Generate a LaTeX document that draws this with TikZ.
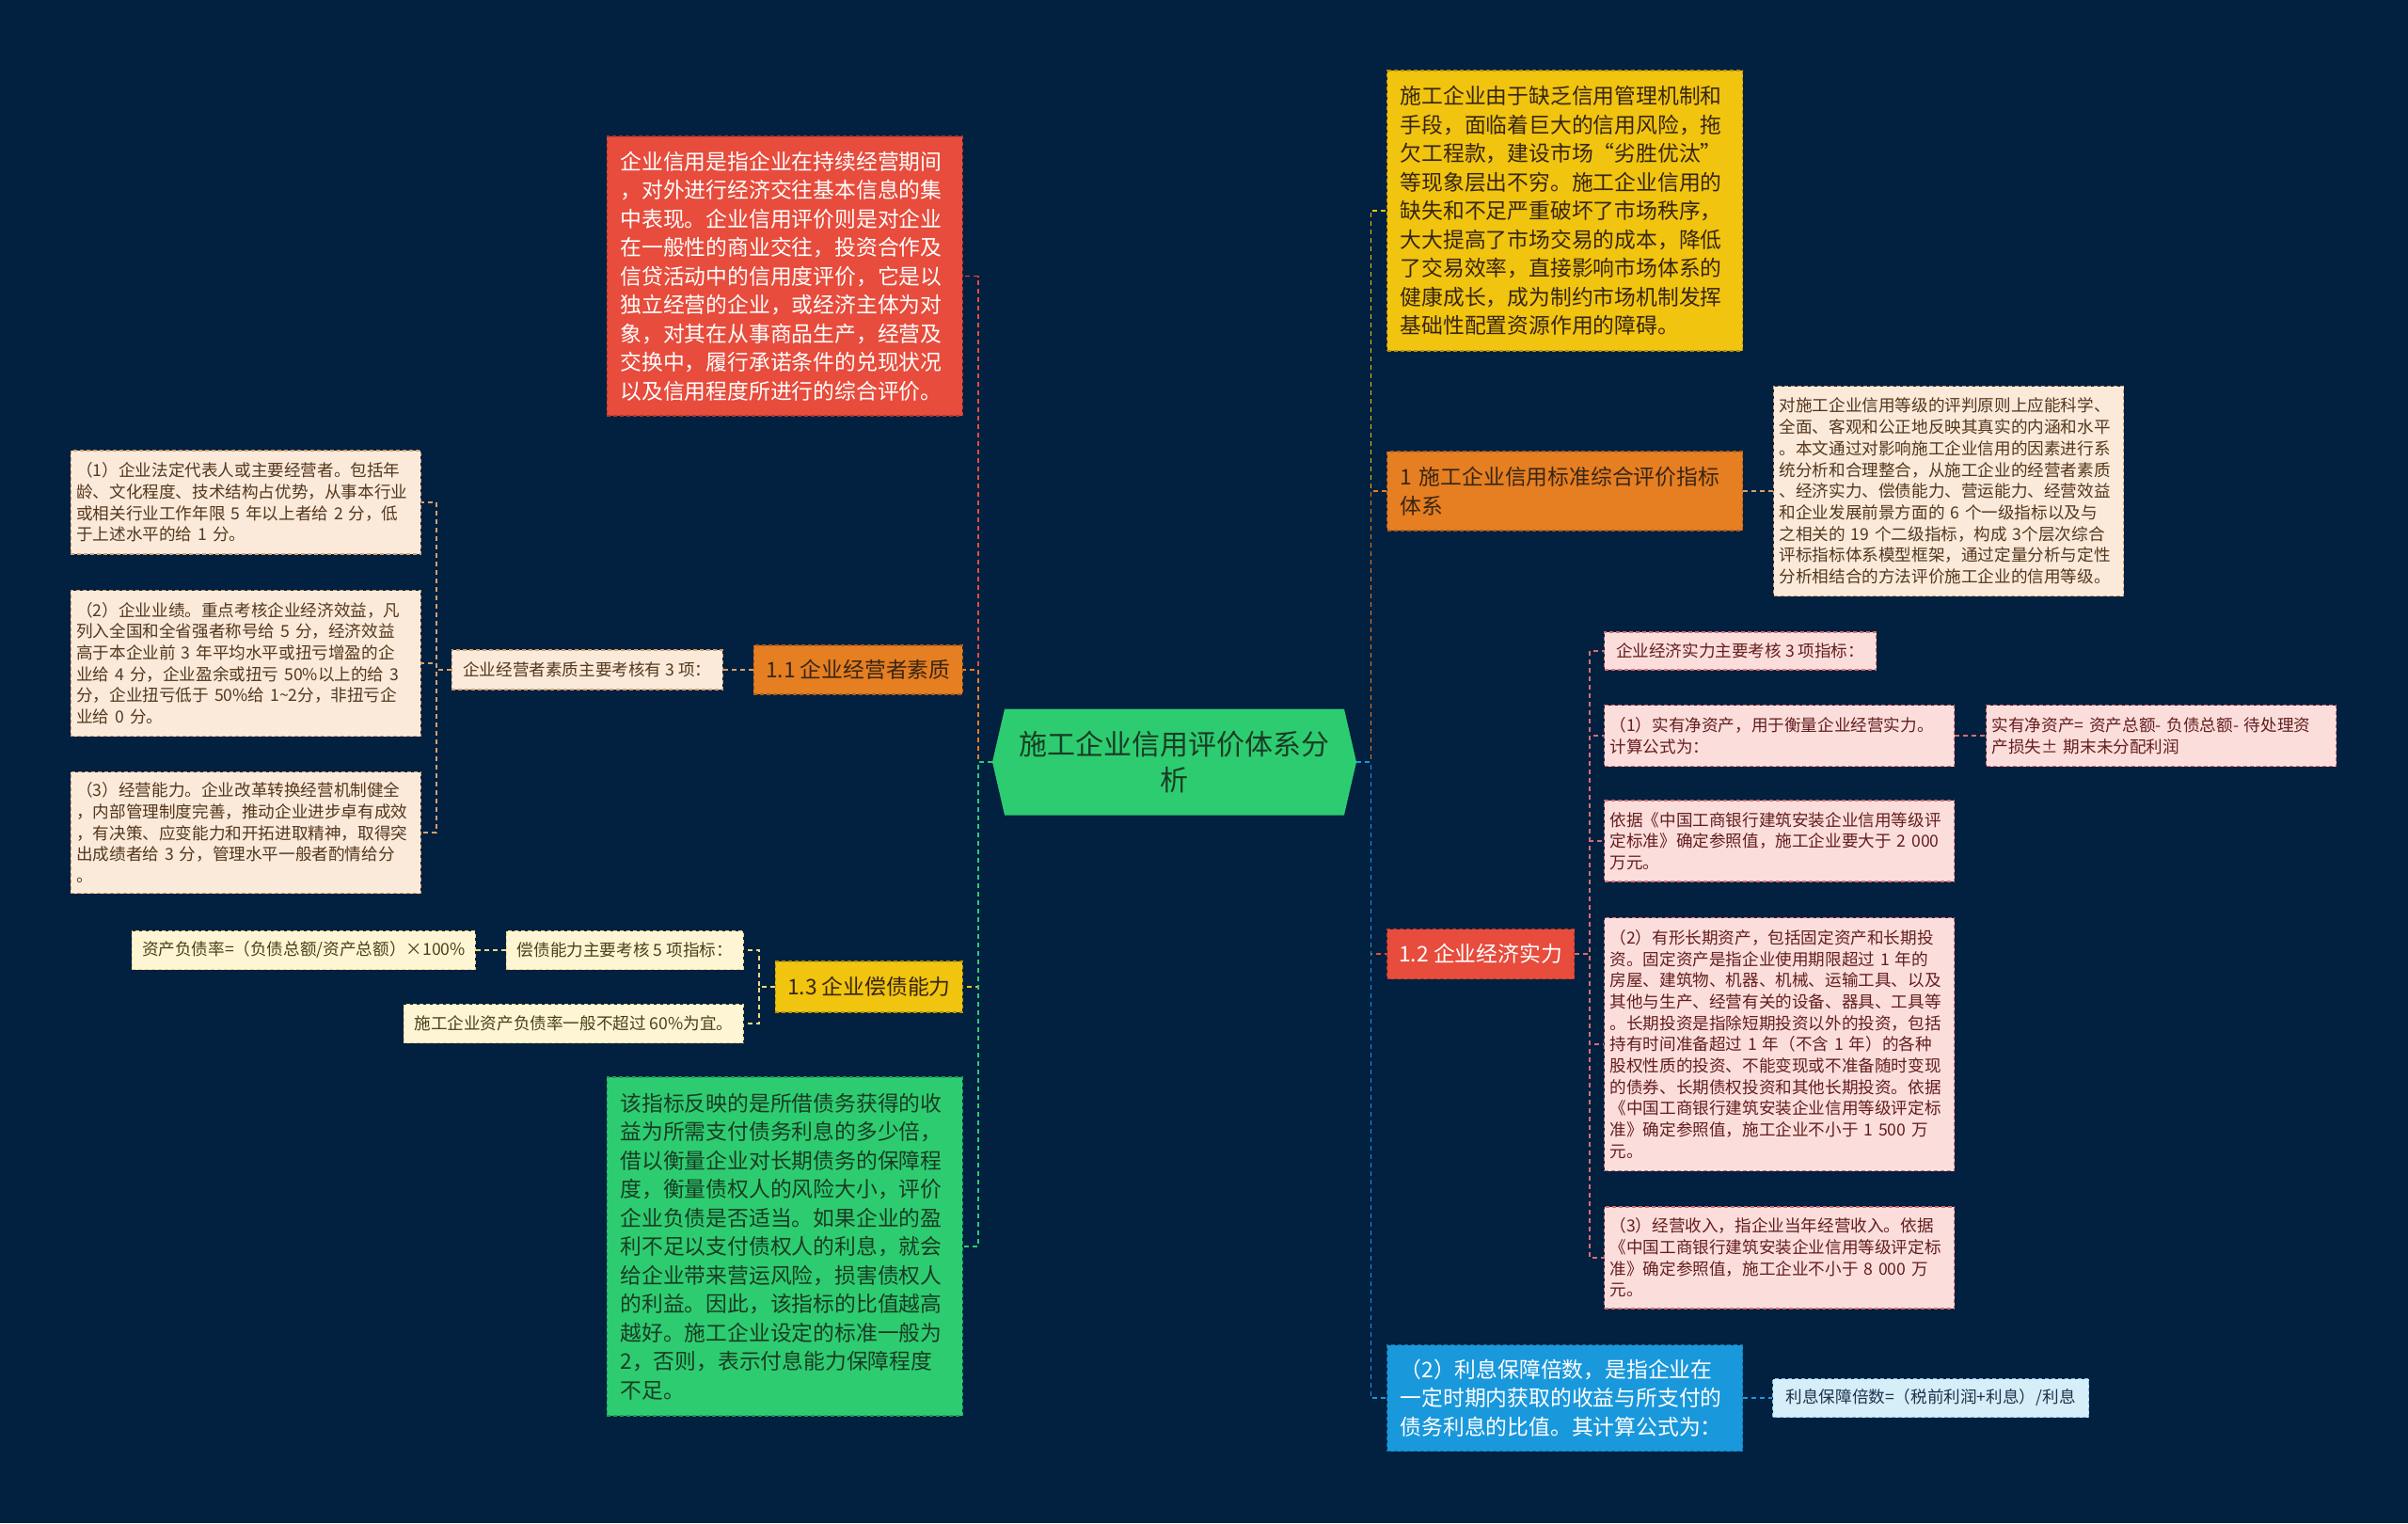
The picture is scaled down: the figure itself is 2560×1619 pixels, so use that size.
\documentclass[tikz,border=0pt]{standalone}
\usepackage{fontspec}
\setmainfont{Noto Sans CJK SC}
\usetikzlibrary{shapes.symbols}
\definecolor{cbg}{RGB}{2,32,64}
\definecolor{cred}{RGB}{231,76,60}
\definecolor{corange}{RGB}{230,126,34}
\definecolor{cyellow}{RGB}{241,196,15}
\definecolor{cgreen}{RGB}{46,204,113}
\definecolor{cblue}{RGB}{26,152,220}
\definecolor{cbeige}{RGB}{251,234,217}
\definecolor{cpaleyel}{RGB}{253,245,212}
\definecolor{cpinkbox}{RGB}{251,222,220}
\definecolor{clightblue}{RGB}{214,238,248}
\definecolor{ctan}{RGB}{214,160,110}
\definecolor{cyelline}{RGB}{235,215,130}
\definecolor{cpinkline}{RGB}{215,110,110}
\definecolor{tdark}{RGB}{55,38,20}
\definecolor{tgreen}{RGB}{25,60,35}
\definecolor{tbrown}{RGB}{85,55,30}
\definecolor{tred}{RGB}{100,30,30}
\definecolor{tyel}{RGB}{75,65,25}
\definecolor{tblue}{RGB}{30,50,75}
\begin{document}
\begin{tikzpicture}[x=0.5pt,y=-0.5pt,
		box/.style={rectangle,draw,dash pattern=on 2pt off 1.5pt,line width=0.6pt,inner ysep=3pt},
		big/.style={box,font=\fontsize{11.4pt}{15.25pt}\selectfont,text width=175pt,inner xsep=7pt,align=left,minimum height=#1},
		small/.style={box,font=\fontsize{8.8pt}{11.35pt}\selectfont,text width=180pt,inner xsep=3pt,align=left,minimum height=#1},
		tag/.style={box,font=\fontsize{8.8pt}{11.35pt}\selectfont,inner xsep=3pt,minimum height=20.5pt,minimum width=#1},
		head/.style={box,font=\fontsize{11.4pt}{15.25pt}\selectfont,minimum height=26.5pt,minimum width=99.5pt},
		link/.style={draw=#1,line width=0.9pt,dash pattern=on 2.5pt off 2pt},
	]
	\fill[cbg] (0,0) rectangle (2560,1619);
	\useasboundingbox (0,0) rectangle (2560,1619);

	\node[signal,signal to=west and east,signal pointer angle=154,fill=cgreen,text=tgreen,
		minimum width=193.5pt,minimum height=56.5pt,align=center,
		font=\fontsize{15pt}{19pt}\selectfont] (root) at (1248.5,810) {施工企业信用评价体系分\\析};

	\node[big=148.5pt,fill=cred,draw=cred!75!black,text=white,anchor=east] (def) at (1024,293.5)
		{企业信用是指企业在持续经营期间\\，对外进行经济交往基本信息的集\\中表现。企业信用评价则是对企业\\在一般性的商业交往，投资合作及\\信贷活动中的信用度评价，它是以\\独立经营的企业，或经济主体为对\\象，对其在从事商品生产，经营及\\交换中，履行承诺条件的兑现状况\\以及信用程度所进行的综合评价。};
	\node[head,minimum width=111pt,minimum height=26pt,fill=corange,draw=corange!75!black,text=tdark,anchor=east] (b11) at (1024,712) {1.1 企业经营者素质};
	\node[tag=144pt,minimum height=21pt,fill=cbeige,draw=ctan,text=tbrown,anchor=east] (q11) at (769,712) {企业经营者素质主要考核有 3 项：};
	\node[small=55pt,fill=cbeige,draw=ctan,text=tbrown,anchor=east] (p1) at (448,534)
		{（1）企业法定代表人或主要经营者。包括年\\龄、文化程度、技术结构占优势，从事本行业\\或相关行业工作年限 5 年以上者给 2 分，低\\于上述水平的给 1 分。};
	\node[small=77.5pt,fill=cbeige,draw=ctan,text=tbrown,anchor=east] (p2) at (448,705)
		{（2）企业业绩。重点考核企业经济效益，凡\\列入全国和全省强者称号给 5 分，经济效益\\高于本企业前 3 年平均水平或扭亏增盈的企\\业给 4 分，企业盈余或扭亏 50\%以上的给 3\\分，企业扭亏低于 50\%给 1\textasciitilde2分，非扭亏企\\业给 0 分。};
	\node[small=64.5pt,fill=cbeige,draw=ctan,text=tbrown,anchor=east] (p3) at (448,885)
		{（3）经营能力。企业改革转换经营机制健全\\，内部管理制度完善，推动企业进步卓有成效\\，有决策、应变能力和开拓进取精神，取得突\\出成绩者给 3 分，管理水平一般者酌情给分\\。};
	\node[head,minimum height=27pt,fill=cyellow,draw=cyellow!75!black,text=tdark,anchor=east] (b13) at (1024,1049) {1.3 企业偿债能力};
	\node[tag=126pt,fill=cpaleyel,draw=cyelline,text=tyel,anchor=east] (d0) at (791,1010) {偿债能力主要考核 5 项指标：};
	\node[tag=182.5pt,fill=cpaleyel,draw=cyelline,text=tyel,anchor=east] (d1) at (506,1010) {资产负债率=（负债总额/资产总额）×100\%};
	\node[tag=180.5pt,fill=cpaleyel,draw=cyelline,text=tyel,anchor=east] (d2) at (791,1088) {施工企业资产负债率一般不超过 60\%为宜。};
	\node[big=180pt,fill=cgreen,draw=cgreen!75!black,text=tgreen,anchor=east] (expl) at (1024,1325)
		{该指标反映的是所借债务获得的收\\益为所需支付债务利息的多少倍，\\借以衡量企业对长期债务的保障程\\度，衡量债权人的风险大小，评价\\企业负债是否适当。如果企业的盈\\利不足以支付债权人的利息，就会\\给企业带来营运风险，损害债权人\\的利益。因此，该指标的比值越高\\越好。施工企业设定的标准一般为\\2，否则，表示付息能力保障程度\\不足。};

	\node[big=149pt,fill=cyellow,draw=cyellow!75!black,text=tdark,anchor=west] (intro) at (1474,224)
		{施工企业由于缺乏信用管理机制和\\手段，面临着巨大的信用风险，拖\\欠工程款，建设市场“劣胜优汰”\\等现象层出不穷。施工企业信用的\\缺失和不足严重破坏了市场秩序，\\大大提高了市场交易的成本，降低\\了交易效率，直接影响市场体系的\\健康成长，成为制约市场机制发挥\\基础性配置资源作用的障碍。};
	\node[big=42pt,fill=corange,draw=corange!75!black,text=tdark,anchor=west] (b1) at (1474,522)
		{1 施工企业信用标准综合评价指标\\体系};
	\node[small=111.5pt,fill=cbeige,draw=ctan,text=tbrown,anchor=west] (g1) at (1885,522)
		{对施工企业信用等级的评判原则上应能科学、\\全面、客观和公正地反映其真实的内涵和水平\\。本文通过对影响施工企业信用的因素进行系\\统分析和合理整合，从施工企业的经营者素质\\、经济实力、偿债能力、营运能力、经营效益\\和企业发展前景方面的 6 个一级指标以及与\\之相关的 19 个二级指标，构成 3个层次综合\\评标指标体系模型框架，通过定量分析与定性\\分析相结合的方法评价施工企业的信用等级。};
	\node[head,fill=cred,draw=cred!75!black,text=white,anchor=west] (b12) at (1474,1014) {1.2 企业经济实力};
	\node[tag=144.5pt,minimum height=20pt,fill=cpinkbox,draw=cpinkline,text=tred,anchor=west] (e0) at (1705,692) {企业经济实力主要考核 3 项指标：};
	\node[small=32.5pt,fill=cpinkbox,draw=cpinkline,text=tred,anchor=west] (e1) at (1705,782)
		{（1）实有净资产，用于衡量企业经营实力。\\计算公式为：};
	\node[small=32.5pt,fill=cpinkbox,draw=cpinkline,text=tred,anchor=west] (e1f) at (2111,782)
		{实有净资产= 资产总额- 负债总额- 待处理资\\产损失± 期末未分配利润};
	\node[small=43pt,fill=cpinkbox,draw=cpinkline,text=tred,anchor=west] (e2) at (1705,894)
		{依据《中国工商银行建筑安装企业信用等级评\\定标准》确定参照值，施工企业要大于 2 000\\万元。};
	\node[small=134.5pt,fill=cpinkbox,draw=cpinkline,text=tred,anchor=west] (e3) at (1705,1110)
		{（2）有形长期资产，包括固定资产和长期投\\资。固定资产是指企业使用期限超过 1 年的\\房屋、建筑物、机器、机械、运输工具、以及\\其他与生产、经营有关的设备、器具、工具等\\。长期投资是指除短期投资以外的投资，包括\\持有时间准备超过 1 年（不含 1 年）的各种\\股权性质的投资、不能变现或不准备随时变现\\的债券、长期债权投资和其他长期投资。依据\\《中国工商银行建筑安装企业信用等级评定标\\准》确定参照值，施工企业不小于 1 500 万\\元。};
	\node[small=54pt,fill=cpinkbox,draw=cpinkline,text=tred,anchor=west] (e4) at (1705,1337)
		{（3）经营收入，指企业当年经营收入。依据\\《中国工商银行建筑安装企业信用等级评定标\\准》确定参照值，施工企业不小于 8 000 万\\元。};
	\node[big=56.5pt,fill=cblue,draw=cblue!75!black,text=white,anchor=west] (b2) at (1474,1486)
		{（2）利息保障倍数，是指企业在\\一定时期内获取的收益与所支付的\\债务利息的比值。其计算公式为：};
	\node[tag=168pt,fill=clightblue,draw=cblue!60,text=tblue,anchor=west] (f1) at (1884,1486) {利息保障倍数=（税前利润+利息）/利息};

	\foreach \n/\c in {def/cred,b11/corange,b13/cyellow,expl/cgreen} {
		\draw[link=\c] (root.west) -- ++(-15,0) |- (\n.east);
	}
	\foreach \n/\c in {intro/cyellow,b1/corange,b12/cred,b2/cblue} {
		\draw[link=\c] (root.east) -- ++(15,0) |- (\n.west);
	}
	\draw[link=ctan] (b11.west) -- (q11.east);
	\foreach \n in {p1,p2,p3} {
		\draw[link=ctan] (q11.west) -- ++(-16,0) |- (\n.east);
	}
	\foreach \n in {d0,d2} {
		\draw[link=cyelline] (b13.west) -- ++(-17,0) |- (\n.east);
	}
	\draw[link=cyelline] (d0.west) -- (d1.east);
	\draw[link=ctan] (b1.east) -- (g1.west);
	\foreach \n in {e0,e1,e2,e3,e4} {
		\draw[link=cpinkline] (b12.east) -- ++(16,0) |- (\n.west);
	}
	\draw[link=cpinkline] (e1.east) -- (e1f.west);
	\draw[link=cblue] (b2.east) -- (f1.west);
\end{tikzpicture}
\end{document}
